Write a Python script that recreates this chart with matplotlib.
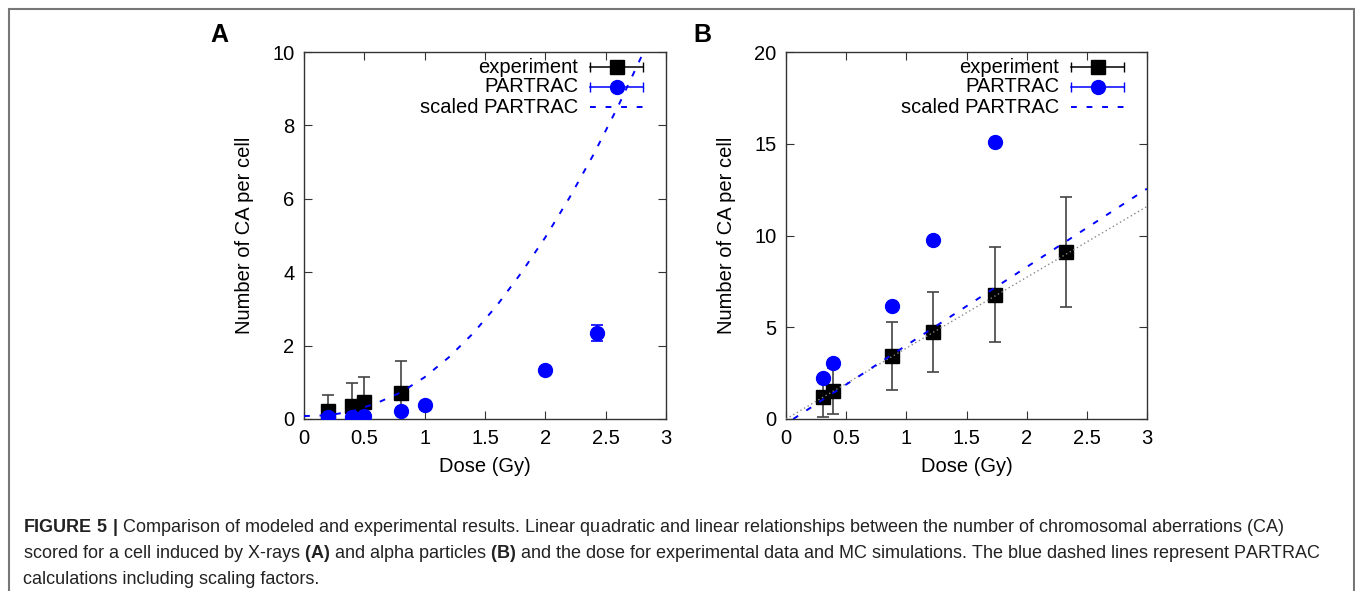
import numpy as np
import matplotlib.pyplot as plt
from matplotlib.patches import Rectangle

plt.rcParams['font.family'] = ['Liberation Sans', 'DejaVu Sans']
plt.rcParams['mathtext.fontset'] = 'custom'
plt.rcParams['mathtext.rm'] = 'Liberation Sans'
plt.rcParams['mathtext.bf'] = 'Liberation Sans:bold'

# panel A: X-rays
a_exp_dose = [0.2, 0.4, 0.5, 0.8]
a_exp_ca = [0.22, 0.36, 0.47, 0.72]
a_exp_err = [0.43, 0.63, 0.68, 0.87]
a_sim_dose = [0.2, 0.4, 0.5, 0.8, 1.0, 2.0, 2.43]
a_sim_ca = [0.05, 0.06, 0.09, 0.22, 0.39, 1.34, 2.34]
a_sim_err = [0, 0, 0, 0, 0, 0, 0.22]
a_fit_dose = [0, 0.2, 0.4, 0.6, 0.8, 1.0, 1.2, 1.4, 1.6, 1.8, 2.0, 2.2, 2.4, 2.6, 2.8]
a_fit_ca = [0.08, 0.10, 0.21, 0.43, 0.72, 1.14, 1.68, 2.33, 3.10, 3.98, 4.95, 6.03, 7.21, 8.50, 9.90]

# panel B: alpha particles
b_exp_dose = [0.31, 0.39, 0.88, 1.22, 1.74, 2.33]
b_exp_ca = [1.22, 1.53, 3.42, 4.75, 6.78, 9.08]
b_exp_err = [1.13, 1.25, 1.85, 2.18, 2.6, 3.0]
b_sim_dose = [0.31, 0.39, 0.88, 1.22, 1.74]
b_sim_ca = [2.25, 3.04, 6.18, 9.76, 15.07]
b_fit_dose = [0.06, 3.0]
b_fit_ca = [0.0, 12.55]
b_lin_dose = [0.0, 3.0]
b_lin_ca = [0.0, 11.58]

xticks = [0, 0.5, 1, 1.5, 2, 2.5, 3]
xlabels = ['0', '0.5', '1', '1.5', '2', '2.5', '3']

blue = '#0000ff'
axcol = '#333333'
errcol = '#444444'
fs = 14.5

fig = plt.figure(figsize=(13.55, 5.91), dpi=100)
W, H = 1355, 591


def make_axes(left, right, top, bottom):
    return fig.add_axes([left / W, 1 - bottom / H, (right - left) / W, (bottom - top) / H])


def style(ax, ymax, ystep):
    ax.set_xlim(0, 3)
    ax.set_ylim(0, ymax)
    ax.set_xticks(xticks)
    ax.set_xticklabels(xlabels)
    ax.set_yticks(np.arange(0, ymax + 0.1, ystep))
    ax.tick_params(direction='in', length=6, width=0.8, color=axcol, labelsize=fs,
                   top=True, right=True, pad=7)
    for s in ax.spines.values():
        s.set_color(axcol)
        s.set_linewidth(1.0)
    ax.set_xlabel('Dose (Gy)', fontsize=fs, labelpad=7)
    ax.set_ylabel('Number of CA per cell', fontsize=fs, labelpad=13)


def key(ax):
    # gnuplot style key: right aligned text, sample on the right
    rows = [0.959, 0.905, 0.850]
    names = ['experiment', 'PARTRAC', 'scaled PARTRAC']
    for y, name in zip(rows, names):
        ax.text(0.757, y, name, transform=ax.transAxes, ha='right', va='center',
                fontsize=fs)
    x0, x1, xm = 0.790, 0.936, 0.864
    ax.plot([x0, x1], [rows[0]] * 2, color='black', lw=1.1, marker='|', ms=7,
            transform=ax.transAxes, clip_on=False)
    ax.plot([xm], [rows[0]], 's', color='black', ms=10, transform=ax.transAxes, clip_on=False)
    ax.plot([x0, x1], [rows[1]] * 2, color=blue, lw=1.1, marker='|', ms=7,
            transform=ax.transAxes, clip_on=False)
    ax.plot([xm], [rows[1]], 'o', color=blue, ms=10, transform=ax.transAxes, clip_on=False)
    ax.plot([x0, x1], [rows[2]] * 2, color=blue, lw=1.4, dashes=(3, 5),
            transform=ax.transAxes, clip_on=False)


# ---- panel A
axA = make_axes(304, 666, 52, 419)
style(axA, 10, 2)
axA.errorbar(a_exp_dose, a_exp_ca, yerr=a_exp_err, fmt='s', color='black', ms=10,
             ecolor=errcol, elinewidth=1.2, capsize=4, capthick=1.2, zorder=3)
axA.errorbar(a_sim_dose, a_sim_ca, yerr=a_sim_err, fmt='o', color=blue, ms=10,
             ecolor=blue, elinewidth=1.2, capsize=4, capthick=1.2, zorder=4)
axA.plot(a_fit_dose, a_fit_ca, color=blue, lw=1.4, dashes=(3, 5), zorder=5, clip_on=False)
key(axA)

# ---- panel B
axB = make_axes(786, 1147, 52, 419)
style(axB, 20, 5)
axB.errorbar(b_exp_dose, b_exp_ca, yerr=b_exp_err, fmt='s', color='black', ms=10,
             ecolor=errcol, elinewidth=1.2, capsize=4, capthick=1.2, zorder=3)
axB.plot(b_sim_dose, b_sim_ca, 'o', color=blue, ms=10, zorder=4)
axB.plot(b_lin_dose, b_lin_ca, color='#888888', lw=1.0, linestyle=(0, (1, 2)), zorder=5)
axB.plot(b_fit_dose, b_fit_ca, color=blue, lw=1.4, dashes=(3, 5), zorder=6)
key(axB)

# panel letters
fig.text(219 / W, 1 - 35 / H, 'A', fontsize=18, fontweight='bold', ha='center', va='center')
fig.text(702 / W, 1 - 35 / H, 'B', fontsize=18, fontweight='bold', ha='center', va='center')

# caption
lines = [
    r'$\mathbf{FIGURE\ 5\ |}$ Comparison of modeled and experimental results. Linear quadratic and '
    r'linear relationships between the number of chromosomal aberrations (CA)',
    r'scored for a cell induced by X-rays $\mathbf{(A)}$ and alpha particles $\mathbf{(B)}$ and '
    r'the dose for experimental data and MC simulations. The blue dashed lines represent PARTRAC',
    'calculations including scaling factors.',
]
for i, ln in enumerate(lines):
    fig.text(23 / W, 1 - (527 + 26 * i) / H, ln, fontsize=13, color='#222222',
             ha='left', va='center')

# outer frame
fig.add_artist(Rectangle((9 / W, -0.1), 1345 / W, 1.1 - 9 / H, transform=fig.transFigure,
                         fill=False, edgecolor='#777777', lw=1.5))

fig.savefig('out.png', dpi=100)
